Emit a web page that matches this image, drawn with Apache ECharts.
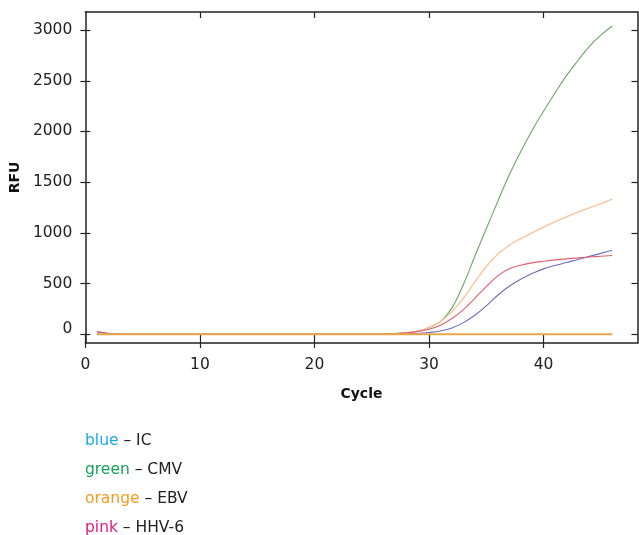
<!DOCTYPE html>
<html>
<head>
<meta charset="utf-8">
<script src="https://cdn.jsdelivr.net/npm/echarts@6/dist/echarts.min.js"></script>
<style>
  html, body { margin: 0; padding: 0; background: #fff; }
  #chart { width: 639px; height: 535px; }
</style>
</head>
<body>
<div id="chart"></div>
<script>
// cycles 1..46
const cycles = [1,2,3,4,5,6,7,8,9,10,11,12,13,14,15,16,17,18,19,20,21,22,23,24,25,26,27,28,29,30,31,32,33,34,35,36,37,38,39,40,41,42,43,44,45,46];

const blueVals   = [22,8,0,0,0,0,0,0,0,0,0,0,0,0,0,0,0,0,0,0,0,0,0,0,0,0,0,3,8,18,33,62,115,188,280,385,474,543,599,645,678,707,738,768,798,829];
const redVals    = [28,10,0,0,0,0,0,0,0,0,0,0,0,0,0,0,0,0,0,0,0,0,0,0,0,0,5,14,26,49,89,155,243,355,470,576,645,681,704,720,734,744,753,762,770,777];
const peachVals  = [0,0,0,0,0,0,0,0,0,0,0,0,0,0,0,0,0,0,0,0,0,0,0,0,0,0,5,15,32,69,125,224,355,517,668,790,878,941,1000,1056,1109,1158,1204,1247,1288,1332];
const greenVals  = [0,0,0,0,0,0,0,0,0,0,0,0,0,0,0,0,0,0,0,0,0,0,0,0,0,3,8,15,32,65,125,260,490,770,1040,1310,1570,1800,2010,2200,2380,2550,2700,2840,2950,3040];
const orangeVals = [0,0,0,0,0,0,0,0,0,0,0,0,0,0,0,0,0,0,0,0,0,0,0,0,0,0,0,0,0,0,0,0,0,0,0,0,0,0,0,0,0,0,0,0,0,0];

const xTicks = [0, 10, 20, 30, 40];
const yTicks = [0, 500, 1000, 1500, 2000, 2500, 3000];

const legendWords  = ['blue', 'green', 'orange', 'pink'];
const legendNames  = ['IC', 'CMV', 'EBV', 'HHV-6'];
const legendColors = ['#1fa8e6', '#16a05a', '#f59b1c', '#e5197f'];

const FONT = 'DejaVu Sans';
const FS = 15.5;
const X_MIN = 0, X_MAX = 48.2, Y_MIN = -86, Y_MAX = 3178;
const AXIS_COLOR = '#222';

const pairs = vals => cycles.map((c, i) => [c, vals[i]]);

function line(vals, color, width) {
  return {
    type: 'line', data: pairs(vals), showSymbol: false, smooth: 0.4,
    lineStyle: { color: color, width: width }, itemStyle: { color: color }, silent: true
  };
}

// extra axes only draw frame lines and inner/outer tick halves
function frameAxis(pos, min, max, ticks, inside, len, showLine) {
  return {
    type: 'value', position: pos, min: min, max: max,
    axisLine: { show: showLine, onZero: false, lineStyle: { color: AXIS_COLOR, width: 1.5 } },
    axisTick: { inside: inside, length: len, customValues: ticks, lineStyle: { color: AXIS_COLOR, width: 1.2 } },
    axisLabel: { show: false }, splitLine: { show: false }
  };
}

const chart = echarts.init(document.getElementById('chart'));
chart.setOption({
  animation: false,
  grid: { left: 85, right: 1.5, top: 12, bottom: 192, containLabel: false },
  xAxis: [
    {
      type: 'value', position: 'bottom', min: X_MIN, max: X_MAX,
      name: 'Cycle', nameLocation: 'middle', nameGap: 44,
      nameTextStyle: { fontFamily: FONT, fontWeight: 'bold', fontSize: 14, color: '#111' },
      axisLine: { onZero: false, lineStyle: { color: AXIS_COLOR, width: 1.5 } },
      axisTick: { inside: false, length: 5, customValues: xTicks, lineStyle: { color: AXIS_COLOR, width: 1.2 } },
      axisLabel: { customValues: xTicks, margin: 14, fontFamily: FONT, fontSize: FS, color: '#222' },
      splitLine: { show: false }
    },
    frameAxis('bottom', X_MIN, X_MAX, xTicks, true, 9, false),
    frameAxis('top', X_MIN, X_MAX, [10, 20, 30, 40], true, 6, true)
  ],
  yAxis: [
    {
      type: 'value', position: 'left', min: Y_MIN, max: Y_MAX,
      name: 'RFU', nameLocation: 'middle', nameGap: 62,
      nameTextStyle: { fontFamily: FONT, fontWeight: 'bold', fontSize: 14, color: '#111' },
      axisLine: { onZero: false, lineStyle: { color: AXIS_COLOR, width: 1.5 } },
      axisTick: { inside: false, length: 5, customValues: yTicks, lineStyle: { color: AXIS_COLOR, width: 1.2 } },
      axisLabel: {
        customValues: yTicks, margin: 13, fontFamily: FONT, fontSize: FS, color: '#222',
        formatter: v => v === 0 ? '{z|0}' : String(v),
        rich: { z: { fontFamily: FONT, fontSize: FS, color: '#222', padding: [0, 0, 10, 0] } }
      },
      splitLine: { show: false }
    },
    frameAxis('left', Y_MIN, Y_MAX, yTicks, true, 5, false),
    frameAxis('right', Y_MIN, Y_MAX, yTicks, true, 6, true)
  ],
  series: [
    line(greenVals, '#6aa862', 1.1),
    line(peachVals, '#f9c39b', 1.3),
    line(blueVals, '#6c6cc2', 1.1),
    line(redVals, '#e0606f', 1.1),
    line(orangeVals, '#e8a64a', 2)
  ],
  graphic: legendWords.map((w, i) => ({
    type: 'text', left: 85, top: 442 + i * 29 - 9,
    style: {
      text: '{c|' + w + '}{d| – ' + legendNames[i] + '}',
      rich: {
        c: { fontFamily: FONT, fontSize: FS, fill: legendColors[i], color: legendColors[i] },
        d: { fontFamily: FONT, fontSize: FS, fill: '#222', color: '#222' }
      }
    }
  }))
});
</script>
</body>
</html>
